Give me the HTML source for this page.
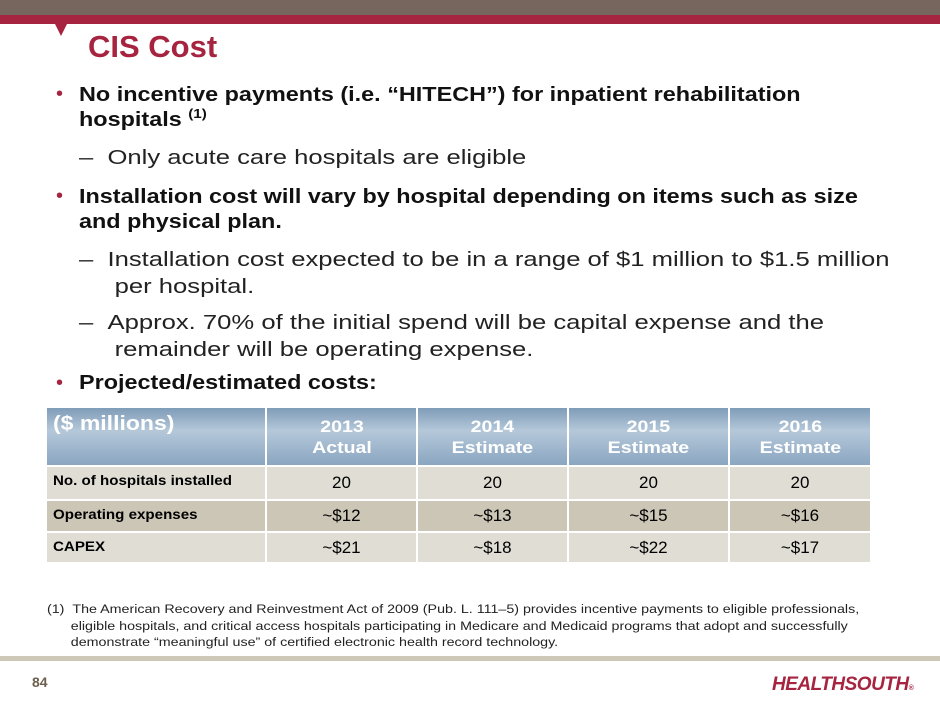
<!DOCTYPE html>
<html><head><meta charset="utf-8"><style>
body{margin:0;width:940px;height:705px;position:relative;background:#fff;font-family:"Liberation Sans",sans-serif;overflow:hidden}
.a{position:absolute;white-space:nowrap;transform-origin:0 0}
.b{font-size:20px;font-weight:bold;color:#111;transform:scaleX(1.17)}
.s{font-size:20.5px;color:#222;transform:scaleX(1.25)}
.dot{color:#a6243f;font-size:20px}
td{padding:0;border:2px solid #fff}
table{border-collapse:collapse;position:absolute;left:45px;top:406px;table-layout:fixed;width:825px}
th{border:2px solid #fff;background:linear-gradient(#7f9cb8,#b5c8d9 40%,#8aa6c1);color:#fff;font-size:17px;font-weight:bold;height:57px;line-height:21px;padding:0}
.x{display:inline-block;transform:scaleX(1.15)}
.n{font-size:17px;text-align:center}
.l{font-size:13.5px;font-weight:bold;padding-left:6px;vertical-align:top;padding-top:6px}
.l span{display:inline-block;transform:scaleX(1.12);transform-origin:0 0}
sup{font-size:13px;line-height:0;vertical-align:8px}
</style></head><body>
<div class="a" style="left:0;top:0;width:940px;height:15px;background:#77665e"></div>
<div class="a" style="left:0;top:15px;width:940px;height:9px;background:#a6243f"></div>
<div class="a" style="left:55px;top:24px;width:0;height:0;border-left:6px solid transparent;border-right:6px solid transparent;border-top:12px solid #a6243f"></div>
<div class="a" style="left:88px;top:29px;font-size:31px;font-weight:bold;color:#a6243f">CIS Cost</div>
<div class="a dot" style="left:56px;top:83px">•</div>
<div class="a b" style="left:79px;top:83px;line-height:25px">No incentive payments (i.e. “HITECH”) for inpatient rehabilitation<br>hospitals <sup>(1)</sup></div>
<div class="a s" style="left:79px;top:146px">–&nbsp;&nbsp;Only acute care hospitals are eligible</div>
<div class="a dot" style="left:56px;top:185px">•</div>
<div class="a b" style="left:79px;top:185px;line-height:25px">Installation cost will vary by hospital depending on items such as size<br>and physical plan.</div>
<div class="a s" style="left:79px;top:246px;line-height:27px">–&nbsp;&nbsp;Installation cost expected to be in a range of $1 million to $1.5 million<br>&nbsp;&nbsp;&nbsp;&nbsp;&nbsp;per hospital.</div>
<div class="a s" style="left:79px;top:309px;line-height:27px">–&nbsp;&nbsp;Approx. 70% of the initial spend will be capital expense and the<br>&nbsp;&nbsp;&nbsp;&nbsp;&nbsp;remainder will be operating expense.</div>
<div class="a dot" style="left:56px;top:372px">•</div>
<div class="a b" style="left:79px;top:372px">Projected/estimated costs:</div>
<table>
<colgroup><col style="width:220px"><col style="width:151px"><col style="width:151px"><col style="width:161px"><col style="width:142px"></colgroup>
<tr><th style="text-align:left;vertical-align:top;padding:6px 0 0 6px;height:51px;font-size:20px"><span class="x" style="transform-origin:0 0">($ millions)</span></th><th><span class="x">2013<br>Actual</span></th><th><span class="x">2014<br>Estimate</span></th><th><span class="x">2015<br>Estimate</span></th><th><span class="x">2016<br>Estimate</span></th></tr>
<tr style="background:#e0ddd5;height:34px"><td class="l"><span>No. of hospitals installed</span></td><td class="n">20</td><td class="n">20</td><td class="n">20</td><td class="n">20</td></tr>
<tr style="background:#ccc6b7;height:32px"><td class="l"><span>Operating expenses</span></td><td class="n">~$12</td><td class="n">~$13</td><td class="n">~$15</td><td class="n">~$16</td></tr>
<tr style="background:#e0ddd5;height:31px"><td class="l"><span>CAPEX</span></td><td class="n">~$21</td><td class="n">~$18</td><td class="n">~$22</td><td class="n">~$17</td></tr>
</table>
<div class="a" style="left:47px;top:601px;font-size:12.3px;color:#222;line-height:16.5px;transform:scaleX(1.16)">(1)&nbsp;&nbsp;The American Recovery and Reinvestment Act of 2009 (Pub. L. 111–5) provides incentive payments to eligible professionals,<br>&nbsp;&nbsp;&nbsp;&nbsp;&nbsp;&nbsp;eligible hospitals, and critical access hospitals participating in Medicare and Medicaid programs that adopt and successfully<br>&nbsp;&nbsp;&nbsp;&nbsp;&nbsp;&nbsp;demonstrate “meaningful use” of certified electronic health record technology.</div>
<div class="a" style="left:0;top:656px;width:940px;height:5px;background:#cdc8b8"></div>
<div class="a" style="left:32px;top:674px;font-size:14px;font-weight:bold;color:#6d5e4e">84</div>
<div class="a" style="left:772px;top:674px;font-size:19px;font-weight:bold;font-style:italic;color:#a6243f;letter-spacing:-0.5px">HEALTHSOUTH<span style="font-size:7px">®</span></div>
</body></html>
